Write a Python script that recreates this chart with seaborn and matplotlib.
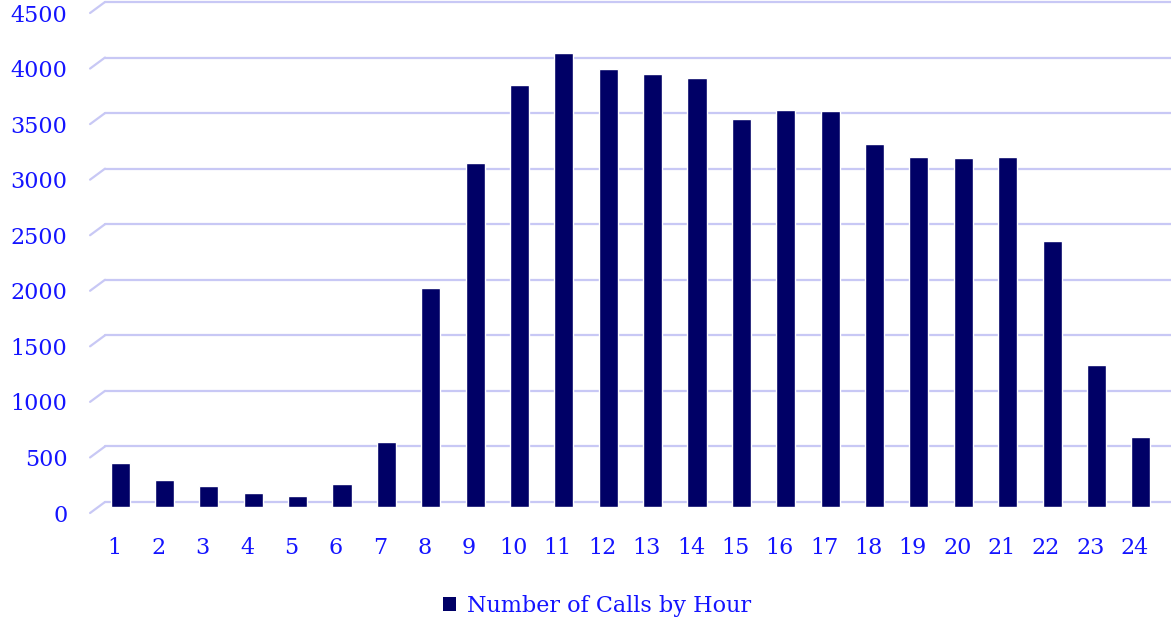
import matplotlib.pyplot as plt
import matplotlib.transforms as mtransforms
from matplotlib.patches import Patch
import pandas as pd
import seaborn as sns

hours = [str(h) for h in range(1, 25)]
calls = [400, 245, 190, 128, 100, 208, 585, 1970, 3100, 3800, 4090, 3940,
         3900, 3860, 3490, 3570, 3560, 3270, 3150, 3140, 3150, 2390, 1280, 630]
y_ticks = [0, 500, 1000, 1500, 2000, 2500, 3000, 3500, 4000, 4500]
series_name = "Number of Calls by Hour"

bar_color = "#000066"
text_color = "#1414ff"
grid_color = "#c8c8f5"

df = pd.DataFrame({"hour": hours, "calls": calls})

sns.set_theme(style="white")
plt.rcParams["font.family"] = ["DejaVu Serif"]

fig = plt.figure(figsize=(11.71, 6.20), dpi=100)
ax = fig.add_axes([105 / 1171, 118 / 620, 1066 / 1171, 500 / 620])

sns.barplot(data=df, x="hour", y="calls", color=bar_color, width=0.43,
            saturation=1, ax=ax, zorder=3)

ax.set_ylim(0, 4500)
ax.set_xlim(-0.34, 23.68)
ax.set_yticks(y_ticks)
ax.set_yticklabels([str(v) for v in y_ticks])
ax.set_xlabel("")
ax.set_ylabel("")
sns.despine(ax=ax, left=True, bottom=True)
ax.tick_params(axis="both", length=0, labelsize=16, labelcolor=text_color)
ax.tick_params(axis="y", pad=27)
ax.tick_params(axis="x", pad=25)

# gridlines on the back wall plus the short slanted side-wall part
ax.yaxis.grid(True, color=grid_color, linewidth=1.6, zorder=0)
for gl in ax.get_ygridlines():
    gl.set_clip_on(False)
blend = mtransforms.blended_transform_factory(ax.transAxes, ax.transData)
for v in y_ticks:
    ax.plot([-0.014, 0], [v - 99, v], color=grid_color, linewidth=1.6,
            transform=blend, clip_on=False, zorder=0)

# columns stand slightly in front of the back wall
bar_shift = mtransforms.ScaledTranslation(0, -5 / 100, fig.dpi_scale_trans)
for p in ax.patches:
    p.set_transform(p.get_data_transform() + bar_shift)
    p.set_clip_on(False)

# labels sit on the front plane, a little below / left of the back wall
shift_y = mtransforms.ScaledTranslation(0, -11 / 100, fig.dpi_scale_trans)
shift_x = mtransforms.ScaledTranslation(-6 / 100, 0, fig.dpi_scale_trans)
for lab in ax.get_yticklabels():
    lab.set_transform(lab.get_transform() + shift_y)
for lab in ax.get_xticklabels():
    lab.set_transform(lab.get_transform() + shift_x)

handle = Patch(facecolor=bar_color, edgecolor="none")
fig.legend([handle], [series_name], loc="lower center",
           bbox_to_anchor=(0.51, -0.027), frameon=False, fontsize=16,
           labelcolor=text_color, handlelength=0.55, handleheight=0.55,
           handletextpad=0.5)

fig.savefig("out.png", dpi=100)
